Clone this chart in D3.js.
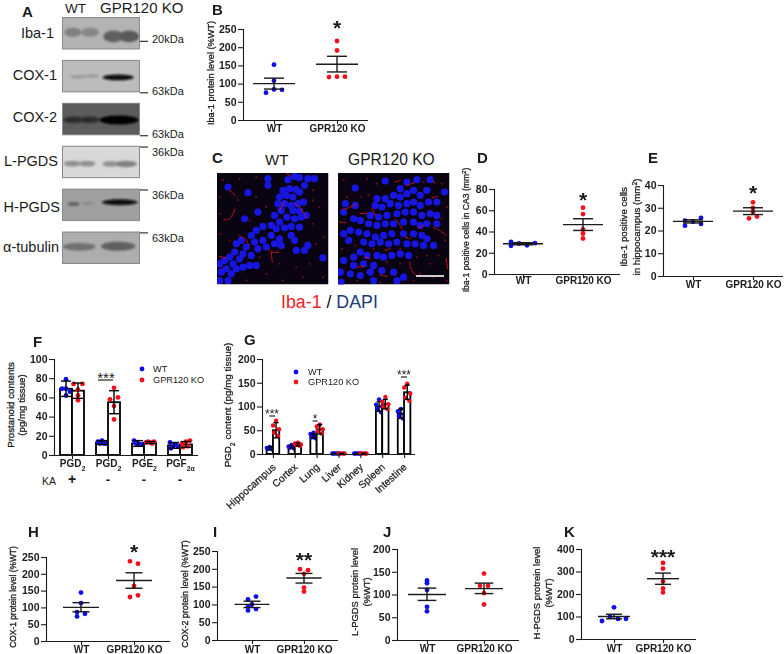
<!DOCTYPE html>
<html><head><meta charset="utf-8">
<script src="https://cdn.jsdelivr.net/npm/d3@7/dist/d3.min.js"></script>
<style>html,body{margin:0;padding:0;background:#fff}svg{display:block}text{font-family:"Liberation Sans",Arial,sans-serif;fill:#1a1a1a}</style>
</head><body><svg id="c" width="784" height="654"></svg>
<script>
const groupLabels = ["WT","GPR120 KO"];
const blue = "#0a0af0", red = "#f5101a";

// panel B
const bWT=[152,108,84,83,75], bKO=[217,191,119,119,118], bWTStat=[100,85,115], bKOStat=[153,132,175];
const bWTSlot=[0,0,0,2,-2], bKOSlot=[0,0,0,2,-2], bTicks=[0,50,100,150,200,250];
// panel D
const dWT=[30.2,26.5,28.7,27,29], dKO=[62.4,56.4,41.9,38.1,33.4], dWTStat=[28.5,27.5,29.5], dKOStat=[46.5,41,52];
const dWTSlot=[-3,-3,-1,1,3], dKOSlot=[0,0,0,0,0], dTicks=[0,20,40,60,80];
// panel E
const eWT=[24.3,22.1,23.9,25.5,22.9], eKO=[32.4,29.9,28.1,25.3,26.1], eWTStat=[24,23.3,24.7], eKOStat=[28.5,27,30];
const eWTSlot=[-2,-2,0,2,2], eKOSlot=[0,0,0,-1,1], eTicks=[0,10,20,30,40];
// panel H
const hWT=[144,113,86,81,73], hKO=[237,230,164,136,131], hWTStat=[100,87,114], hKOStat=[180,157,203];
const hWTSlot=[0,0,-1,1,-1], hKOSlot=[-1,1,0,1,-1], hTicks=[0,50,100,150,200,250];
// panel I
const iWT=[114,122,100,94,87,83], iKO=[199,196,186,147,136], iWTStat=[100,91,109], iKOStat=[174,160,187];
const iWTSlot=[-1,1,0,-1,1,-1], iKOSlot=[-1,1,0,0,0], iTicks=[0,50,100,150,200,250];
// panel J
const jWT=[131,125,110,73,63], jKO=[146,119,119,103,78], jWTStat=[100,87,114], jKOStat=[113,102,125];
const jWTSlot=[0,0,0,0,0], jKOSlot=[0,-1,1,0,0], jTicks=[0,50,100,150,200];
// panel K
const kWT=[141,98,89,90,80], kKO=[338,313,256,225,207], kWTStat=[100,90,110], kKOStat=[268,243,293];
const kWTSlot=[0,-1,1,3,-3], kKOSlot=[0,0,0,0,0], kTicks=[0,100,200,300,400];

// panel F
const fGroups=["g1","g2","g3","g4"];
const fMeanWT=[69,13,12,10], fMeanKO=[67,55,13,11];
const fSdWT=[8,2,3,3], fSdKO=[8,12,1,3];
const fPtsWT=[[79,69,69,66,62],[15,14,12,12,12],[15,12,11,11,12],[13,10,9,7,11]];
const fPtsKO=[[74,74,68,62,57],[70,58,60,51,37],[13,13,14,14,12],[12,14,15,8,9]];
const fSlotsWT=[[0,-4,0,4,0],[0,-4,4,-2,2],[-4,0,4,0,-2],[-4,0,4,-3,2]];
const fSlotsKO=[[4.5,-4.5,0,0,0],[0,-4,4,0,0],[-4,0,4,-2,2],[-4,0,4,-3,2]];
const fLabels=[["PGD","2"],["PGD","2"],["PGE","2"],["PGF","2α"]];
const kaRow=["+","-","-","-"];
const fTicks=[0,20,40,60,80,100];

// panel G
const gGroups=["Hippocampus","Cortex","Lung","Liver","Kidney","Spleen","Intestine"];
const gMeanWT=[12,15,38,1,1,100,85], gMeanKO=[50,20,52,1,1,105,130];
const gSdWT=[3,3,4,0.5,0.5,10,10], gSdKO=[16,3,10,0.5,0.5,10,15];
const gPtsWT=[[15,13,12,11,10],[19,16,15,13,12],[45,42,38,35,33],[1,1,1,1,1],[1,1,1,1,1],[115,104,100,95,88],[95,90,84,80,75]];
const gPtsKO=[[70,60,52,45,38],[24,22,20,19,17],[62,58,52,48,43],[1,1,1,1,1],[1,1,1,1,1],[120,110,105,100,95],[148,140,127,118,112]];
const gSlots=[0,-3,3,-2,2];
const gTicks=[0,50,100,150,200];

// panel A
const blotNames=["Iba-1","COX-1","COX-2","L-PGDS","H-PGDS","α-tubulin"];
const blotShade=["#b3b3b3","#bcbcbc","#5c5c5c","#d8d8d8","#a0a0a0","#adadad"];
const blotBands=[
 [[.14,.47,.11,.14,"#808080"],[.36,.47,.11,.14,"#868686"],[.66,.6,.13,.18,"#606060"],[.86,.6,.13,.18,"#5a5a5a"]],
 [[.2,.52,.1,.05,"#999"],[.38,.5,.1,.05,"#999"],[.72,.54,.2,.09,"#0c0c0c"]],
 [[.15,.52,.13,.1,"#2a2a2a"],[.35,.52,.13,.1,"#2a2a2a"],[.73,.53,.25,.14,"#030303"]],
 [[.13,.55,.11,.09,"#929292"],[.32,.55,.11,.09,"#929292"],[.62,.56,.1,.09,"#929292"],[.82,.56,.14,.1,"#828282"]],
 [[.15,.47,.08,.07,"#666"],[.33,.45,.08,.05,"#888"],[.74,.42,.23,.09,"#0a0a0a"]],
 [[.22,.47,.21,.12,"#707070"],[.72,.45,.22,.14,"#606060"]]
];
const blotMarkers=[["20kDa",.75],["63kDa",1.0],["63kDa",1.0],["36kDa",0.04],["36kDa",0.04],["63kDa",0.04]];

// panel C (positions in the 3x crop)
const nucleiWT=[[265,118],[285,108],[300,112],[325,115],[345,115],[205,135],[250,150],[270,145],[290,148],[315,135],[240,170],[260,165],[280,170],[300,155],[235,190],[255,190],[275,195],[295,190],[312,185],[85,140],[145,157],[205,115],[280,210],[300,212],[245,210],[225,225],[262,230],[240,245],[285,235],[305,230],[320,225],[175,215],[135,235],[215,255],[190,258],[230,265],[255,262],[275,258],[300,260],[170,270],[155,285],[215,285],[240,295],[190,300],[125,300],[165,305],[225,310],[245,315],[275,285],[285,300],[110,310],[140,320],[175,325],[200,320],[130,340],[155,345],[105,335],[120,355],[90,350],[75,360],[60,370],[100,370],[80,385],[110,385],[65,395],[95,400],[130,380],[150,375],[170,375],[85,420],[60,420],[325,315],[315,330],[370,352],[290,330]];
const nucleiKO=[[465,143],[555,122],[600,145],[620,125],[650,118],[690,118],[580,165],[555,175],[600,170],[620,160],[640,150],[660,165],[680,150],[733,155],[530,175],[525,195],[545,200],[570,190],[595,195],[620,190],[640,185],[660,195],[685,185],[710,185],[435,190],[465,195],[430,215],[510,225],[535,230],[560,225],[590,220],[615,215],[640,215],[665,225],[690,220],[710,225],[460,235],[480,240],[505,250],[530,255],[555,250],[580,250],[610,245],[640,245],[660,255],[680,250],[710,250],[450,270],[475,275],[430,280],[500,280],[525,290],[550,285],[575,280],[610,280],[640,280],[665,285],[680,295],[445,300],[490,305],[515,310],[540,305],[565,310],[590,305],[620,310],[645,310],[670,315],[700,315],[530,345],[550,350],[575,345],[600,340],[430,360],[460,350],[480,335],[500,345],[625,345],[460,375],[490,370],[520,375],[420,395],[450,400],[480,405],[510,395],[545,390],[580,395],[610,410],[422,425],[520,420],[590,420]];
const fibresWT=[[[88,150],[100,158],[106,165]],[[72,238],[90,235],[106,205]],[[118,285],[135,295],[150,315]],[[205,325],[218,335],[240,335]],[[215,335],[218,365]],[[240,210],[252,185]],[[285,190],[300,200]],[[60,348],[78,352]],[[262,100],[275,108]],[[305,205],[320,232]]];
const fibresKO=[[[425,208],[445,202],[470,192]],[[418,245],[435,247]],[[628,365],[632,385],[645,405]],[[700,262],[718,270],[738,285]],[[585,235],[600,255],[606,268]],[[470,380],[490,378]],[[540,403],[560,408]],[[585,125],[600,120]],[[620,135],[640,128]],[[695,172],[712,168]],[[515,205],[525,225]],[[480,220],[500,218]],[[495,350],[510,355]],[[555,330],[570,325]],[[738,355],[742,385]],[[655,262],[670,255]],[[615,290],[630,295]],[[698,122],[705,130]]];
const specksWT=[[70,120],[120,115],[170,110],[60,170],[115,180],[170,170],[200,200],[150,240],[60,280],[90,300],[340,150],[360,200],[340,250],[375,290],[350,310],[330,370],[290,380],[240,370],[200,400],[250,420],[310,410],[370,410],[140,420],[180,350],[60,220],[340,180]];
const specksKO=[[430,120],[500,115],[530,130],[725,130],[740,200],[480,170],[505,165],[725,235],[735,300],[715,345],[690,370],[660,400],[700,410],[740,420],[680,345],[650,350],[600,370],[560,365],[540,425],[470,420],[425,325],[465,315],[520,325],[600,325],[440,170],[500,395],[640,420],[670,125]];

const svg=d3.select("#c");
const defs=svg.append("defs");
[["soft",.7],["blur",1.3],["haze",.35],["rblur",.5]].forEach(([id,s])=>defs.append("filter").attr("id",id)
  .attr("x","-30%").attr("y","-30%").attr("width","160%").attr("height","160%")
  .append("feGaussianBlur").attr("stdDeviation",s));

function label(x,y,t,size,opts={}){
  const n=svg.append("text").attr("x",x).attr("y",y).attr("font-size",size).text(t);
  if(opts.bold) n.attr("font-weight","bold");
  if(opts.anchor) n.attr("text-anchor",opts.anchor);
  if(opts.fill) n.style("fill",opts.fill);
  return n;
}
function vTitle(x,cy,t,size){
  const n=svg.append("text").attr("transform",`translate(${x},${cy}) rotate(-90)`)
    .attr("text-anchor","middle").attr("font-size",size)
    .style("stroke","#1a1a1a").style("stroke-width",.28);
  t.forEach(seg=>{
    const s=n.append("tspan").text(seg[0]);
    if(seg[1]==="sub") s.attr("baseline-shift","sub").attr("font-size",size*.7);
    if(seg[1]==="sup") s.attr("baseline-shift","super").attr("font-size",size*.7);
  });
}
function star(cx,cy,t,size){
  return svg.append("text").attr("x",cx).attr("y",cy+size*.56).attr("text-anchor","middle").attr("font-size",size).text(t);
}
function axes(g,y,xLeft,xRight,y0,yTicks,xScale,opts={}){
  const ya=d3.axisLeft(y).tickValues(yTicks).tickSize(5).tickFormat(d3.format("d"));
  const gy=g.append("g").attr("transform",`translate(${xLeft},0)`).call(ya);
  gy.selectAll("line,path").attr("stroke","#1c1c1c").attr("stroke-width",1.1);
  gy.selectAll("text").attr("font-size",opts.yFont||10.5).attr("font-weight","bold").attr("x",-6.5).style("fill","#1c1c1c");
  gy.attr("font-family",null);
  g.append("line").attr("x1",xLeft).attr("x2",xRight).attr("y1",y0+.5).attr("y2",y0+.5).attr("stroke","#1c1c1c").attr("stroke-width",1.2);
  if(xScale){
    const xa=d3.axisBottom(xScale).tickSize(4);
    const gx=g.append("g").attr("transform",`translate(0,${y0})`).call(xa);
    gx.attr("font-family",null);
    gx.select(".domain").remove();
    gx.selectAll("line").attr("stroke","#1c1c1c").attr("stroke-width",1.1);
    return gx;
  }
}
function scatterPanel(c){
  const g=svg.append("g").attr("filter","url(#haze)");
  const y=d3.scaleLinear().domain([0,c.ticks[c.ticks.length-1]]).range([c.y0,c.yTop]);
  const x=d3.scaleOrdinal(groupLabels,c.xs);
  const gx=axes(g,y,c.xLeft,c.xRight,c.y0,c.ticks,x);
  gx.selectAll("text").attr("font-size",10).attr("font-weight","bold").attr("dy",null).attr("y",c.tickY).style("fill","#1c1c1c");
  const series=[[groupLabels[0],c.wt,c.wtSlot,c.wtStat,blue],[groupLabels[1],c.ko,c.koSlot,c.koStat,red]];
  series.forEach(([name,vals,slots,stat,col])=>{
    const cx=x(name);
    g.append("g").selectAll("circle").data(vals).join("circle")
      .attr("cx",(d,i)=>cx+slots[i]*4).attr("cy",d=>y(d)).attr("r",2.4).attr("fill",col);
    const s=g.append("g").attr("stroke","#1a1a1a").attr("stroke-width",1.4);
    s.append("line").attr("x1",cx-c.meanW).attr("x2",cx+c.meanW).attr("y1",y(stat[0])).attr("y2",y(stat[0]));
    s.append("line").attr("x1",cx).attr("x2",cx).attr("y1",y(stat[1])).attr("y2",y(stat[2]));
    [stat[1],stat[2]].forEach(v=>s.append("line").attr("x1",cx-c.capW).attr("x2",cx+c.capW).attr("y1",y(v)).attr("y2",y(v)));
  });
}
function barPanel(c){
  const g=svg.append("g").attr("filter","url(#haze)");
  const y=d3.scaleLinear().domain([0,c.ticks[c.ticks.length-1]]).range([c.y0,c.yTop]);
  const x0=d3.scaleBand(c.groups,[c.xLeft,c.xRight]);
  const x1=d3.scaleBand(["WT","KO"],[-c.barW,c.barW]);
  c.groups.forEach((grp,i)=>{
    const cx=x0(grp)+x0.bandwidth()/2;
    [["WT",c.meanWT,c.sdWT,c.ptsWT,blue,c.slotsWT],["KO",c.meanKO,c.sdKO,c.ptsKO,red,c.slotsKO]].forEach(([k,m,sd,pts,col,sl])=>{
      const bx=cx+x1(k), mid=bx+x1.bandwidth()/2;
      g.append("rect").attr("x",bx).attr("y",y(m[i])).attr("width",x1.bandwidth()).attr("height",c.y0-y(m[i]))
        .attr("fill","#fff").attr("stroke","#000").attr("stroke-width",1.8);
      g.append("g").selectAll("circle").data(pts[i]).join("circle")
        .attr("cx",(d,j)=>mid+sl(i,j)).attr("cy",d=>y(d)).attr("r",c.r).attr("fill",col);
      const s=g.append("g").attr("stroke","#000").attr("stroke-width",1.4);
      s.append("line").attr("x1",mid).attr("x2",mid).attr("y1",y(m[i]-sd[i])).attr("y2",y(m[i]+sd[i]));
      [m[i]-sd[i],m[i]+sd[i]].forEach(v=>s.append("line").attr("x1",mid-c.capW).attr("x2",mid+c.capW).attr("y1",y(v)).attr("y2",y(v)));
    });
  });
  axes(g,y,c.xLeft,c.xRight,c.y0,c.ticks,null);
  const xt=d3.scaleOrdinal(c.groups,c.groups.map(d=>x0(d)+x0.bandwidth()/2));
  const gx=g.append("g").attr("transform",`translate(0,${c.y0})`).call(d3.axisBottom(xt).tickSize(4));
  gx.attr("font-family",null);
  gx.select(".domain").remove();
  gx.selectAll("line").attr("stroke","#1c1c1c").attr("stroke-width",1.1);
  return gx;
}
function legend(x,ys,tx,size){
  [[ys[0],blue,groupLabels[0]],[ys[1],red,groupLabels[1]]].forEach(([yy,col,t])=>{
    svg.append("circle").attr("cx",x).attr("cy",yy).attr("r",2.4).attr("fill",col);
    label(tx,yy+3.3,t,size);
  });
}

// ---------- Panel A ----------
const blotY=d3.scaleBand(blotNames,[17,264]).paddingInner(.245);
const blotX=d3.scaleLinear([0,1],[62,140]);
const blotLabelX=[54,57,57,58,60,59];
const blotLabelY=[38,80,122,166,212,252];
blotNames.forEach((n,i)=>{
  const top=blotY(n), h=blotY.bandwidth();
  const yb=d3.scaleLinear([0,1],[top,top+h]);
  const cid="clipb"+i;
  defs.append("clipPath").attr("id",cid).append("rect").attr("x",blotX(0)).attr("y",top).attr("width",blotX(1)-blotX(0)).attr("height",h);
  const g=svg.append("g").attr("clip-path",`url(#${cid})`);
  g.append("rect").attr("x",blotX(0)).attr("y",top).attr("width",blotX(1)-blotX(0)).attr("height",h).attr("fill",blotShade[i]);
  g.append("g").attr("filter","url(#blur)").selectAll("ellipse").data(blotBands[i]).join("ellipse")
    .attr("cx",d=>blotX(d[0])).attr("cy",d=>yb(d[1])).attr("rx",d=>d[2]*78).attr("ry",d=>d[3]*h).attr("fill",d=>d[4]);
  svg.append("rect").attr("x",blotX(0)+.5).attr("y",top+.5).attr("width",blotX(1)-blotX(0)-1).attr("height",h-1)
    .attr("fill","none").attr("stroke","#8a8a8a").attr("stroke-width",1);
  label(blotLabelX[i],blotLabelY[i],n,14.5,{anchor:"end"});
  const [mk,frac]=blotMarkers[i];
  const ym=yb(frac)+(frac===1?0.5:0);
  svg.append("line").attr("x1",140).attr("x2",148).attr("y1",ym).attr("y2",ym).attr("stroke","#222").attr("stroke-width",1.1);
  label(152,frac===.04?ym+9:ym+(frac===1?2:1.5),mk,11);
});
label(65,13,"WT",13.5);
label(100,13,"GPR120 KO",15);
label(22,17,"A",15,{bold:true});

// ---------- Panel C ----------
const cTop=173,cSize=111.5;
[[nucleiWT,fibresWT,specksWT,[52,387],217],[nucleiKO,fibresKO,specksKO,[413,748],338]].forEach(([nuc,fib,spk,dom,left],pi)=>{
  const sx=d3.scaleLinear(dom,[left,left+cSize]);
  const sy=d3.scaleLinear([98,432],[cTop,cTop+cSize]);
  const cid="clipc"+pi;
  defs.append("clipPath").attr("id",cid).append("rect").attr("x",left).attr("y",cTop).attr("width",cSize).attr("height",cSize);
  const g=svg.append("g").attr("clip-path",`url(#${cid})`);
  g.append("rect").attr("x",left).attr("y",cTop).attr("width",cSize).attr("height",cSize).attr("fill","#0a0412");
  g.append("g").attr("filter","url(#rblur)").selectAll("circle").data(spk).join("circle")
    .attr("cx",d=>sx(d[0])).attr("cy",d=>sy(d[1])).attr("r",1).attr("fill","#7a0f1e");
  g.append("g").attr("filter","url(#soft)").selectAll("circle").data(nuc).join("circle")
    .attr("cx",d=>sx(d[0])).attr("cy",d=>sy(d[1])).attr("r",3.6).attr("fill","#1616e0");
  const ln=d3.line().x(d=>sx(d[0])).y(d=>sy(d[1])).curve(d3.curveCatmullRom);
  g.append("g").attr("filter","url(#rblur)").selectAll("path").data(fib).join("path")
    .attr("d",ln).attr("fill","none").attr("stroke","#d8141e").attr("stroke-width",1).attr("stroke-linecap","round").attr("stroke-dasharray","3 1.5");
});
svg.append("line").attr("x1",416).attr("x2",444).attr("y1",276).attr("y2",276).attr("stroke","#fff").attr("stroke-width",1.6);
label(265,165,"WT",15);
label(348,165,"GPR120 KO",15.6);
label(212,163,"C",15,{bold:true});
{
  const t=svg.append("text").attr("x",281).attr("y",308).attr("font-size",17.8);
  t.append("tspan").text("Iba-1").style("fill","#ee1c25");
  t.append("tspan").text(" / ").style("fill","#111");
  t.append("tspan").text("DAPI").style("fill","#1b3a7a");
}

// ---------- scatter panels ----------
scatterPanel({wt:bWT,ko:bKO,wtStat:bWTStat,koStat:bKOStat,wtSlot:bWTSlot,koSlot:bKOSlot,ticks:bTicks,y0:120,yTop:29,xLeft:243,xRight:368,xs:[274,337],meanW:21,capW:10,tickY:12});
scatterPanel({wt:dWT,ko:dKO,wtStat:dWTStat,koStat:dKOStat,wtSlot:dWTSlot,koSlot:dKOSlot,ticks:dTicks,y0:274,yTop:189,xLeft:494,xRight:620,xs:[523,583],meanW:20,capW:10,tickY:10});
scatterPanel({wt:eWT,ko:eKO,wtStat:eWTStat,koStat:eKOStat,wtSlot:eWTSlot,koSlot:eKOSlot,ticks:eTicks,y0:276,yTop:185,xLeft:663,xRight:783,xs:[693,753],meanW:20,capW:10,tickY:12});
scatterPanel({wt:hWT,ko:hKO,wtStat:hWTStat,koStat:hKOStat,wtSlot:hWTSlot,koSlot:hKOSlot,ticks:hTicks,y0:641,yTop:557,xLeft:46,xRight:170,xs:[81,134],meanW:18,capW:8.5,tickY:12});
scatterPanel({wt:iWT,ko:iKO,wtStat:iWTStat,koStat:iKOStat,wtSlot:iWTSlot,koSlot:iKOSlot,ticks:iTicks,y0:640,yTop:551,xLeft:217,xRight:338,xs:[252,304],meanW:17.5,capW:8.5,tickY:13});
scatterPanel({wt:jWT,ko:jKO,wtStat:jWTStat,koStat:jKOStat,wtSlot:jWTSlot,koSlot:jKOSlot,ticks:jTicks,y0:640,yTop:549,xLeft:397,xRight:519,xs:[427,484],meanW:19,capW:9.3,tickY:12});
scatterPanel({wt:kWT,ko:kKO,wtStat:kWTStat,koStat:kKOStat,wtSlot:kWTSlot,koSlot:kKOSlot,ticks:kTicks,y0:639,yTop:549,xLeft:581,xRight:696,xs:[614,663],meanW:16,capW:8,tickY:13});

// ---------- Panel F ----------
const fx=barPanel({groups:fGroups,ticks:fTicks,y0:455,yTop:359,xLeft:54,xRight:198,barW:12,capW:5,r:2.4,
  meanWT:fMeanWT,meanKO:fMeanKO,sdWT:fSdWT,sdKO:fSdKO,ptsWT:fPtsWT,ptsKO:fPtsKO,
  slotsWT:(i,j)=>fSlotsWT[i][j],slotsKO:(i,j)=>fSlotsKO[i][j]});
fx.selectAll("text").each(function(d,i){
  const t=d3.select(this).text("").attr("dy",null).attr("y",12).attr("font-size",10).attr("font-weight","bold").style("fill","#1c1c1c");
  t.append("tspan").text(fLabels[i][0]);
  t.append("tspan").text(fLabels[i][1]).attr("baseline-shift","sub").attr("font-size",7);
});
const fxc=d3.scaleBand(fGroups,[54,198]);
fGroups.forEach((g,i)=>label(fxc(g)+fxc.bandwidth()/2,484,kaRow[i],i===0?14:13,{anchor:"middle",bold:true}));
label(42,485,"KA",10.5);
legend(142,[369,380],153,9.2);
star(106,375,"***",15);
svg.append("line").attr("x1",98).attr("x2",113).attr("y1",380).attr("y2",380).attr("stroke","#111").attr("stroke-width",1.1);

// ---------- Panel G ----------
const gxAxis=barPanel({groups:gGroups,ticks:gTicks,y0:454,yTop:359,xLeft:262,xRight:415,barW:6.3,capW:2.5,r:2.2,
  meanWT:gMeanWT,meanKO:gMeanKO,sdWT:gSdWT,sdKO:gSdKO,ptsWT:gPtsWT,ptsKO:gPtsKO,
  slotsWT:(i,j)=>gSlots[j],slotsKO:(i,j)=>gSlots[j]});
gxAxis.selectAll("text").attr("dy",null).attr("y",null).attr("text-anchor","end")
  .attr("transform","translate(3,14) rotate(-42)").attr("font-size",10.2).style("fill","#1c1c1c")
  .style("stroke","#1c1c1c").style("stroke-width",.25);
legend(296,[372,382],308,9.2);
[[272,416,"***",215+163/3,215+180/3],[315,421,"*",215+293/3,215+308/3],[404,377,"***",215+558/3,215+576/3]].forEach(([cx,yy,t,a,b])=>{
  star(cx,yy-5,t,12);
  svg.append("line").attr("x1",a).attr("x2",b).attr("y1",yy).attr("y2",yy).attr("stroke","#111").attr("stroke-width",1.1);
});

// ---------- panel letters / stars / titles ----------
label(212,15,"B",15,{bold:true});
label(477,163,"D",15,{bold:true});
label(648,163,"E",15,{bold:true});
label(33,347,"F",15,{bold:true});
label(244,345,"G",15,{bold:true});
label(28,537,"H",15,{bold:true});
label(213,537,"I",15,{bold:true});
label(383,537,"J",15,{bold:true});
label(564,537,"K",15,{bold:true});

star(337,23,"*",21).attr("font-weight","bold"); star(583,195,"*",21).attr("font-weight","bold"); star(753,188,"*",21).attr("font-weight","bold");
star(134,547,"*",21).attr("font-weight","bold"); star(304,555,"**",21).attr("font-weight","bold"); star(663,552,"***",21).attr("font-weight","bold");

vTitle(214,73,[["Iba-1 protein level (%WT)"]],9.2);
vTitle(469,230,[["Iba-1 positive cells in CA3 (mm"],["2","sup"],[")"]],8.6);
vTitle(627,227,[["Iba-1 positive cells"]],9.7);
vTitle(640,227,[["in hippocampus (mm"],["2","sup"],[")"]],9.7);
vTitle(14,405,[["Prostanoid contents"]],9.7);
vTitle(25,405,[["(pg/mg tissue)"]],9.7);
vTitle(231,405,[["PGD"],["2","sub"],[" content (pg/mg tissue)"]],9.8);
vTitle(16,597,[["COX-1 protein level (%WT)"]],8.4);
vTitle(188,594,[["COX-2 protein level (%WT)"]],8.9);
vTitle(358,592,[["L-PGDS protein level"]],9.4);
vTitle(370,592,[["(%WT)"]],9.4);
vTitle(540,593,[["H-PGDS protrein level"]],9.4);
vTitle(552,593,[["(%WT)"]],9.4);
</script></body></html>
